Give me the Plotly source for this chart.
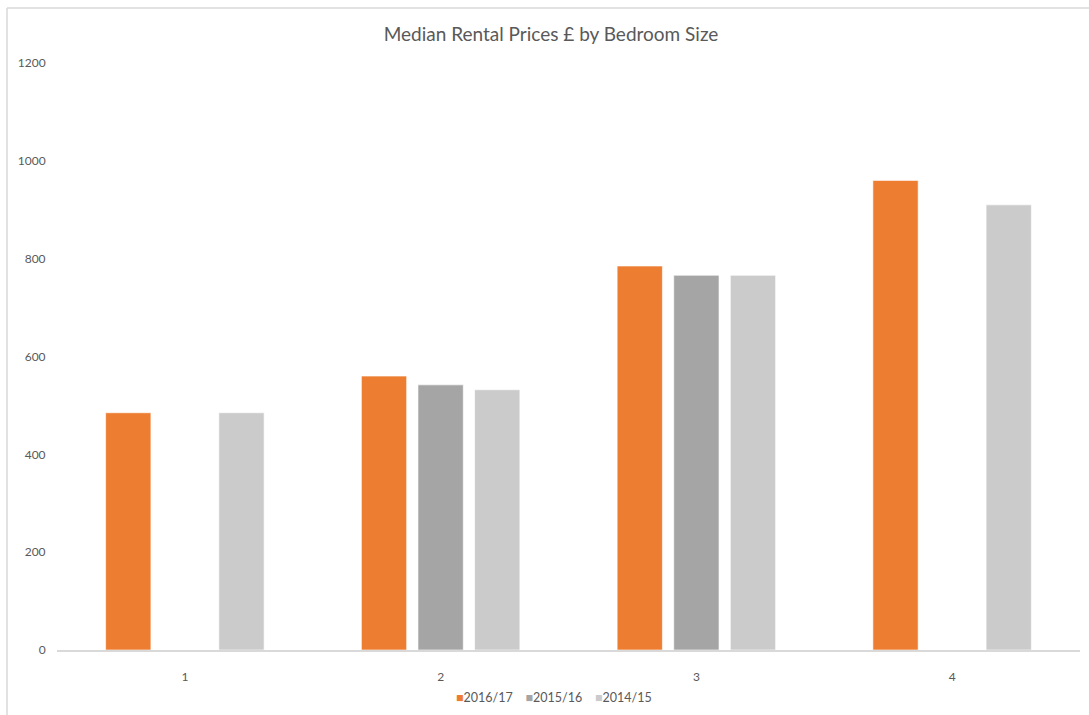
import plotly.graph_objects as go

categories = ["1", "2", "3", "4"]
series_names = ["2016/17", "2015/16", "2014/15"]
v_2016_17 = [485, 560, 785, 960]
v_2015_16 = [None, 542, 766, None]
v_2014_15 = [485, 532, 766, 910]
colors = ["#ED7D31", "#A5A5A5", "#CBCBCB"]
y_ticks = [0, 200, 400, 600, 800, 1000, 1200]

FONT = "Lato, Carlito, Calibri, sans-serif"
W, H = 1089, 715
L, R, T, B = 57, 9, 63, 65

fig = go.Figure()
for name, vals, col in zip(series_names, [v_2016_17, v_2015_16, v_2014_15], colors):
    fig.add_trace(go.Bar(
        x=categories, y=vals, name=name, showlegend=False,
        marker=dict(color=col, line=dict(color="rgba(255,255,255,0.6)", width=1)),
    ))

pw = W - L - R
ph = H - T - B
def px(x):
    return (x - L) / pw
def py(y):
    return (H - B - y) / ph

# legend drawn as text: coloured square + series name
legend_text = "\u00a0\u00a0\u00a0\u00a0".join(
    f"<span style='color:{c}'>■</span>{n}" for n, c in zip(series_names, colors)
)

fig.update_layout(
    width=W, height=H,
    margin=dict(l=L, r=R, t=T, b=B, autoexpand=False),
    paper_bgcolor="white", plot_bgcolor="white",
    barmode="group", bargap=0.336, bargroupgap=0.2,
    font=dict(family=FONT, color="#595959", size=12),
    title=dict(text="Median Rental Prices £ by Bedroom Size",
               x=551 / W, xref="container", xanchor="center",
               y=1 - 34 / H, yref="container", yanchor="middle",
               font=dict(size=19, color="#595959", family=FONT)),
    showlegend=False,
    annotations=[dict(text=legend_text, xref="paper", yref="paper", x=px(554), y=py(697),
                      xanchor="center", yanchor="middle", showarrow=False,
                      font=dict(size=12.5, color="#595959", family=FONT))],
    xaxis=dict(type="category", showgrid=False, showline=True, linecolor="#D9D9D9", linewidth=1.5,
               ticks="outside", ticklen=15, tickcolor="rgba(0,0,0,0)", zeroline=False,
               automargin=False, tickfont=dict(size=12, color="#595959")),
    yaxis=dict(range=[0, 1200], tickvals=y_ticks, showgrid=False, showline=False, zeroline=False,
               ticks="outside", ticklen=8, tickcolor="rgba(0,0,0,0)", automargin=False,
               tickfont=dict(size=12, color="#595959")),
    shapes=[
        dict(type="line", xref="paper", yref="paper", x0=px(7), x1=px(1095), y0=py(8), y1=py(8),
             line=dict(color="#D9D9D9", width=1.5)),
        dict(type="line", xref="paper", yref="paper", x0=px(7), x1=px(7), y0=py(8), y1=py(720),
             line=dict(color="#D9D9D9", width=1.5)),
    ],
)

fig.write_html("out.html")
